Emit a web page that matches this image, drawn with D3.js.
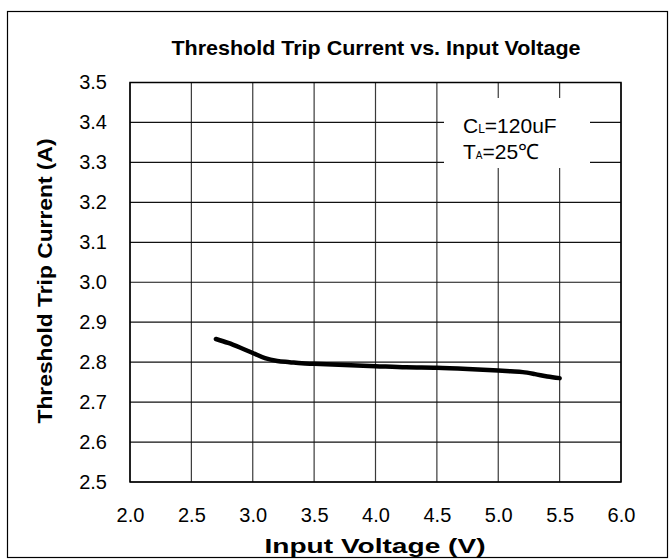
<!DOCTYPE html>
<html><head><meta charset="utf-8">
<script src="https://cdn.jsdelivr.net/npm/d3@7"></script>
<style>body{margin:0;background:#fff}svg{display:block}</style>
</head><body>
<svg id="c" width="671" height="559"></svg>
<script>
const voltage = [2.7,2.8,2.9,3.0,3.1,3.2,3.3,3.4,3.5,3.75,4.0,4.25,4.5,4.75,5.0,5.1,5.2,5.3,5.4,5.5];
const current = [2.858,2.848,2.836,2.823,2.810,2.803,2.800,2.797,2.796,2.793,2.790,2.787,2.786,2.783,2.779,2.777,2.775,2.770,2.764,2.760];
const xTicks = [2.0,2.5,3.0,3.5,4.0,4.5,5.0,5.5,6.0];
const yTicks = [2.5,2.6,2.7,2.8,2.9,3.0,3.1,3.2,3.3,3.4,3.5];
const title = "Threshold Trip Current vs. Input Voltage";
const xTitle = "Input Voltage (V)";
const yTitle = "Threshold Trip Current (A)";

const svg = d3.select("#c");
const L=130, R=621, T=82.5, B=482;
const x = d3.scaleLinear().domain([2,6]).range([L,R]);
const y = d3.scaleLinear().domain([2.5,3.5]).range([B,T]);

// outer frame
svg.append("rect").attr("x",7.5).attr("y",11.5).attr("width",660).attr("height",546)
  .attr("fill","none").attr("stroke","#000").attr("stroke-width",1.2);

// grid
const g = svg.append("g");
g.selectAll("line.v").data(xTicks).join("line")
  .attr("x1",d=>x(d)).attr("x2",d=>x(d)).attr("y1",T).attr("y2",B)
  .attr("stroke","#3a3a3a").attr("stroke-width",1.2);
g.selectAll("line.h").data(yTicks).join("line")
  .attr("x1",L).attr("x2",R).attr("y1",d=>y(d)).attr("y2",d=>y(d))
  .attr("stroke","#111").attr("stroke-width",1.2);

// legend box (white, covers grid)
svg.append("rect").attr("x",444).attr("y",98).attr("width",146).attr("height",70).attr("fill","#fff");

// plot border
svg.append("rect").attr("x",L).attr("y",T).attr("width",R-L).attr("height",B-T)
  .attr("fill","none").attr("stroke","#000").attr("stroke-width",1.5);

// axes via d3 (labels only)
const tf = "Liberation Sans, Arial, sans-serif";
const xa = d3.axisBottom(x).tickValues(xTicks).tickFormat(d3.format(".1f")).tickSize(0).tickPadding(0);
const xg = svg.append("g").attr("transform",`translate(0,${B+26})`).call(xa);
xg.select(".domain").remove();
xg.selectAll("text").attr("font-family",tf).attr("font-size",20).attr("fill","#000");
const ya = d3.axisLeft(y).tickValues(yTicks).tickFormat(d3.format(".1f")).tickSize(0).tickPadding(0);
const yg = svg.append("g").attr("transform",`translate(${L-23},0)`).call(ya);
yg.select(".domain").remove();
yg.selectAll("text").attr("font-family",tf).attr("font-size",20).attr("fill","#000");

// curve
const line = d3.line().x((d,i)=>x(voltage[i])).y(d=>y(d)).curve(d3.curveMonotoneX);
svg.append("path").datum(current).attr("d",line).attr("fill","none")
  .attr("stroke","#000").attr("stroke-width",4.5).attr("stroke-linecap","round").attr("stroke-linejoin","round");

// titles
const bold = "Liberation Sans, Arial, sans-serif";
svg.append("text").attr("x",376).attr("y",55).attr("text-anchor","middle")
  .attr("font-family",bold).attr("font-weight","bold").attr("font-size",21)
  .attr("textLength",409).attr("lengthAdjust","spacingAndGlyphs").text(title);
svg.append("text").attr("x",375).attr("y",553).attr("text-anchor","middle")
  .attr("font-family",bold).attr("font-weight","bold").attr("font-size",21)
  .attr("textLength",221).attr("lengthAdjust","spacingAndGlyphs").text(xTitle);
svg.append("text").attr("transform","translate(52,281) rotate(-90)").attr("text-anchor","middle")
  .attr("font-family",bold).attr("font-weight","bold").attr("font-size",21)
  .attr("textLength",285).attr("lengthAdjust","spacingAndGlyphs").text(yTitle);

// legend text
const t1 = svg.append("text").attr("x",463).attr("y",133).attr("font-family",tf).attr("font-size",21);
t1.append("tspan").text("C");
t1.append("tspan").attr("font-size",12).text("L");
t1.append("tspan").text("=120uF");
const t2 = svg.append("text").attr("x",463).attr("y",159).attr("font-family",tf).attr("font-size",21);
t2.append("tspan").text("T");
t2.append("tspan").attr("font-size",10).text("A");
t2.append("tspan").text("=25℃");
</script>
</body></html>
